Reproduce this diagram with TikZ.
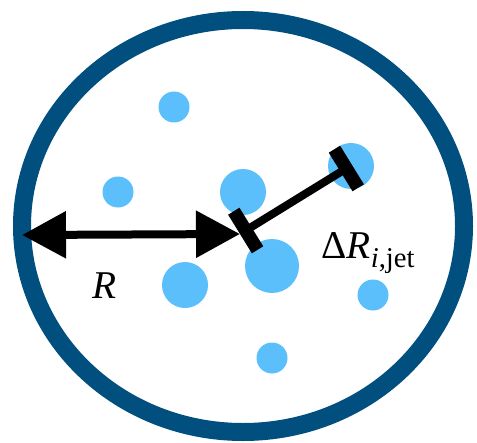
\documentclass[tikz,border=0pt]{standalone}
\usepackage{fontspec}
\setmainfont{Liberation Serif}
\usetikzlibrary{arrows.meta}

\definecolor{ringblue}{RGB}{0,79,127}
\definecolor{dotblue}{RGB}{90,191,250}

\tikzset{every picture/.style={line width=0.75pt}}
\tikzset{
	blob/.style={circle, fill=dotblue, inner sep=0pt, minimum size=#1},
	blob/.default=23.25pt,
	radius line/.style={line width=6pt, {Triangle[length=33pt,width=34pt]}-{Triangle[length=33pt,width=34pt]}},
	delta line/.style={line width=6pt, {Rectangle[length=10pt,width=34pt]}-{Rectangle[length=10pt,width=34pt]}},
	big text/.style={inner sep=0pt, font=\fontsize{29.5}{31}\selectfont}
}

\begin{document}
\begin{tikzpicture}[x=0.75pt,y=0.75pt,yscale=-1,xscale=1]
				\useasboundingbox (0,0) rectangle (477,442);
				
				%Shape: Ellipse [id:jetcone]
				\draw [color=ringblue, line width=13.5pt] (243,226) ellipse (221 and 206);
				
				%Shape: Circle [id:particles]
				\node [blob] (p1) at (174,107) {};
				\node [blob] (p2) at (118,192) {};
				\node [blob=34.5pt] (p3) at (243,192) {};
				\node [blob=34.5pt] (p4) at (351,166) {};
				\node [blob=34.5pt] (p5) at (185,285) {};
				\node [blob=40.5pt] (p6) at (272,266) {};
				\node [blob] (p7) at (373,295) {};
				\node [blob] (p8) at (272,358) {};
				
				%Points
				\coordinate (edge) at (22,235);
				\coordinate (axis) at (240,234);
				\coordinate (part) at (352,165);
				
				%Straight Lines [id:radius]
				\draw [radius line] (edge) -- (axis);
				%Straight Lines [id:deltar]
				\draw [delta line] (axis) -- (part);
				
				% Text Node
				\node [big text, anchor=base west] (rlabel) at (92,298) {\textit{R}};
				% Text Node
				\node [big text, anchor=base west] (dlabel) at (321,258) {Δ\textit{R}\raisebox{-6.75pt}{\fontsize{21.5}{22}\selectfont\textit{i},jet}};
				
\end{tikzpicture}
\end{document}
